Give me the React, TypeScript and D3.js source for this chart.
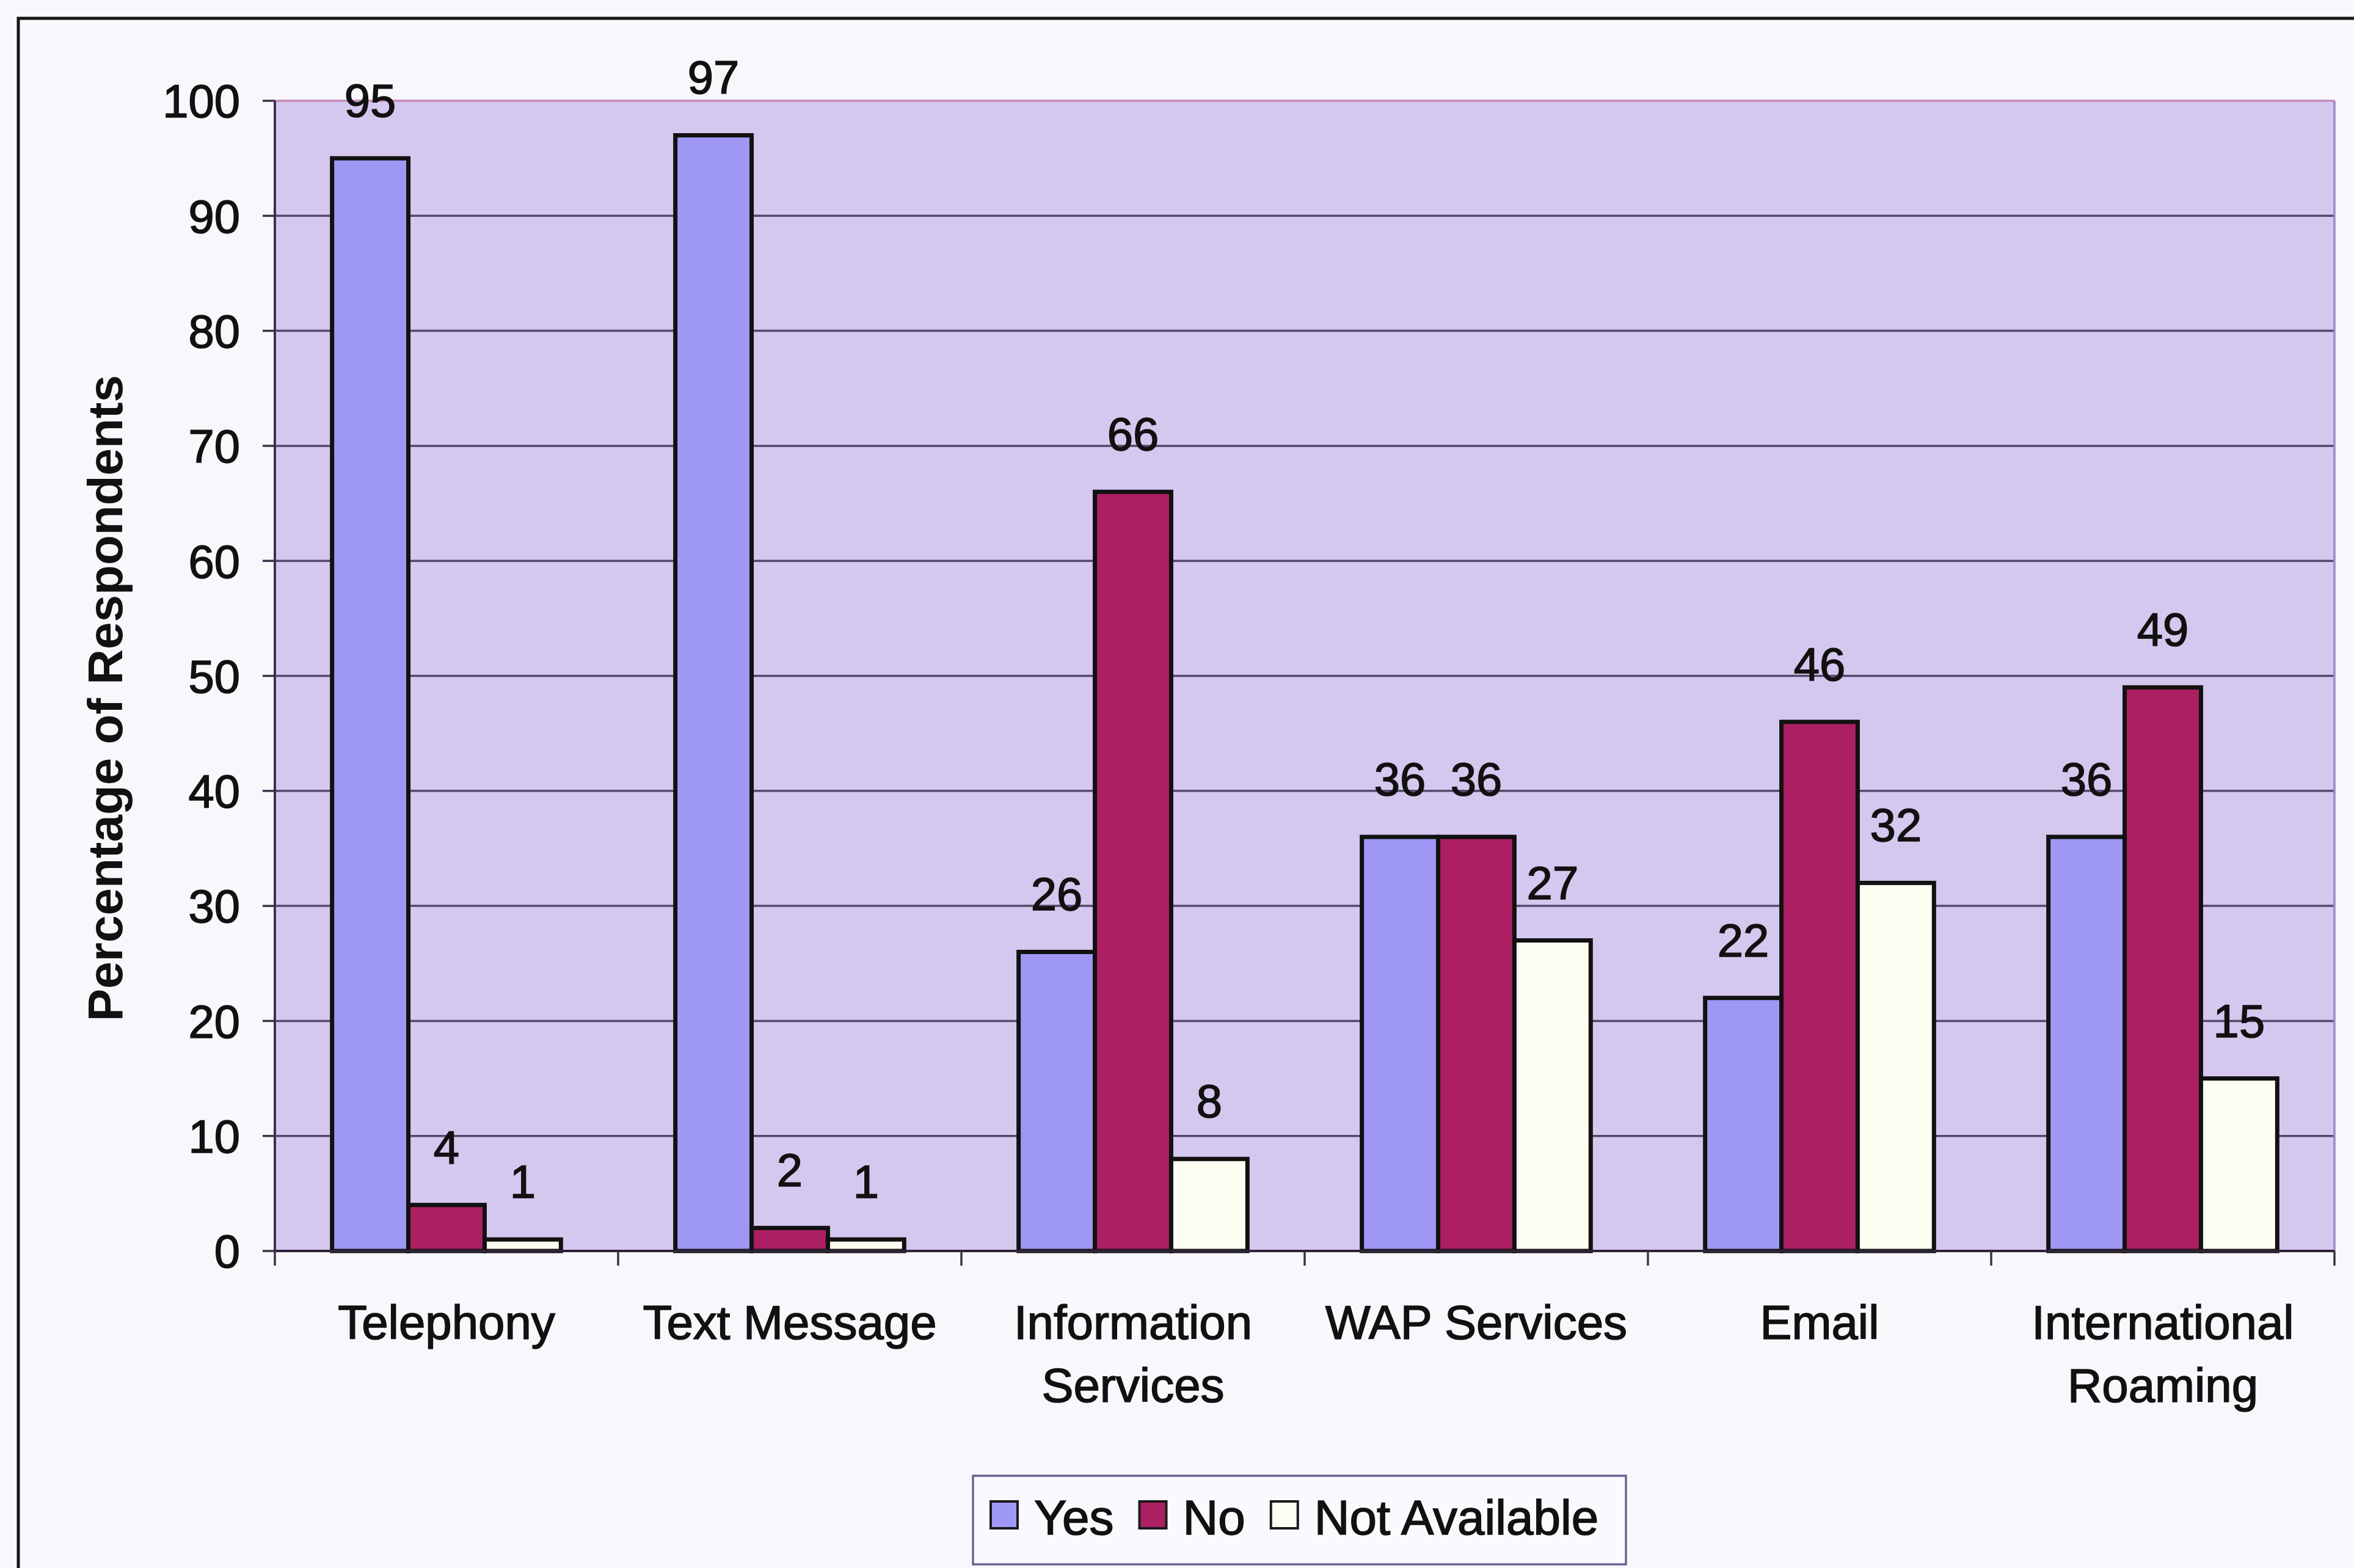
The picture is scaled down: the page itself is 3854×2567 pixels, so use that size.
import React, { useEffect, useRef } from 'react';
import * as d3 from 'd3';

const categories = ['Telephony', 'Text Message', 'Information Services', 'WAP Services', 'Email', 'International Roaming'];
const categoryLines = [['Telephony'], ['Text Message'], ['Information', 'Services'], ['WAP Services'], ['Email'], ['International', 'Roaming']];
const seriesNames = ['Yes', 'No', 'Not Available'];
const yesValues = [95, 97, 26, 36, 22, 36];
const noValues = [4, 2, 66, 36, 46, 49];
const naValues = [1, 1, 8, 27, 32, 15];
const yTicks = [0, 10, 20, 30, 40, 50, 60, 70, 80, 90, 100];
const yTitle = 'Percentage of Respondents';

const seriesColors = ['#9E98F4', '#AD1F63', '#FEFDF2'];

const W = 3854;
const H = 2567;
const FONT = '"Liberation Sans", Arial, sans-serif';
const INK = '#111';
const TXT_STROKE = 1.6;

export default function App() {
  const ref = useRef<SVGSVGElement | null>(null);

  useEffect(() => {
    document.body.style.margin = '0';
    const svg = d3.select(ref.current);
    svg.selectAll('*').remove();

    const seriesValues = [yesValues, noValues, naValues];

    svg.append('rect').attr('x', 0).attr('y', 0).attr('width', W).attr('height', H).attr('fill', '#F8F8FC');
    svg.append('rect').attr('x', 30).attr('y', 30).attr('width', W).attr('height', H)
      .attr('fill', 'none').attr('stroke', '#151515').attr('stroke-width', 5);

    const left = 450, right = 3822;
    const x0 = d3.scaleBand<string>().domain(categories).range([left, right]).paddingInner(0).paddingOuter(0);
    const x1 = d3.scaleBand<string>().domain(seriesNames).range([0, x0.bandwidth()]).paddingInner(0).paddingOuter(0.75);
    const y = d3.scaleLinear().domain([0, 100]).range([2048, 165]);

    // plot background
    svg.append('rect').attr('x', left).attr('y', y(100)).attr('width', right - left).attr('height', y(0) - y(100))
      .attr('fill', '#D5C8EF');

    // gridlines
    svg.append('g').selectAll('line').data(yTicks.filter(t => t > 0 && t < 100)).join('line')
      .attr('x1', left).attr('x2', right).attr('y1', d => y(d)).attr('y2', d => y(d))
      .attr('stroke', '#54486A').attr('stroke-width', 3.5);
    // top and right border
    svg.append('line').attr('x1', left).attr('x2', right).attr('y1', y(100)).attr('y2', y(100))
      .attr('stroke', '#C68AB8').attr('stroke-width', 3.5);
    svg.append('line').attr('x1', right).attr('x2', right).attr('y1', y(100)).attr('y2', y(0))
      .attr('stroke', '#9C86C8').attr('stroke-width', 3.5);

    // y axis
    const ya = svg.append('g');
    ya.append('line').attr('x1', left).attr('x2', left).attr('y1', y(0)).attr('y2', y(100))
      .attr('stroke', '#3A3248').attr('stroke-width', 4);
    ya.selectAll('line.tick').data(yTicks).join('line').attr('class', 'tick')
      .attr('x1', left - 20).attr('x2', left).attr('y1', d => y(d)).attr('y2', d => y(d))
      .attr('stroke', '#3A3248').attr('stroke-width', 3.5);
    ya.selectAll('text').data(yTicks).join('text')
      .attr('x', 393).attr('y', d => y(d)).attr('dy', '0.36em')
      .attr('text-anchor', 'end').attr('font-family', FONT).attr('font-size', 76).attr('fill', INK)
      .attr('stroke', INK).attr('stroke-width', TXT_STROKE)
      .text(d => String(d));

    // bars
    const groups = svg.append('g').selectAll('g').data(categories).join('g')
      .attr('transform', c => `translate(${x0(c)},0)`);
    groups.each(function (c, ci) {
      const g = d3.select(this);
      seriesNames.forEach((s, si) => {
        const v = seriesValues[si][ci];
        g.append('rect')
          .attr('x', x1(s)!).attr('y', y(v)).attr('width', x1.bandwidth()).attr('height', y(0) - y(v))
          .attr('fill', seriesColors[si]).attr('stroke', '#111').attr('stroke-width', 7);
      });
      seriesNames.forEach((s, si) => {
        const v = seriesValues[si][ci];
        g.append('text')
          .attr('x', x1(s)! + x1.bandwidth() / 2).attr('y', y(v) - 68)
          .attr('text-anchor', 'middle').attr('font-family', FONT).attr('font-size', 76).attr('fill', INK)
          .attr('stroke', INK).attr('stroke-width', TXT_STROKE)
          .text(String(v));
      });
    });

    // x axis
    svg.append('line').attr('x1', left).attr('x2', right).attr('y1', y(0)).attr('y2', y(0))
      .attr('stroke', '#2E2438').attr('stroke-width', 4);
    const bounds = [...categories.map(c => x0(c)!), right];
    svg.append('g').selectAll('line').data(bounds).join('line')
      .attr('x1', d => d).attr('x2', d => d).attr('y1', y(0)).attr('y2', y(0) + 24)
      .attr('stroke', '#3A3248').attr('stroke-width', 3.5);

    // category labels
    const cl = svg.append('g').selectAll('text').data(categories).join('text')
      .attr('text-anchor', 'middle').attr('font-family', FONT).attr('font-size', 78).attr('fill', INK)
      .attr('stroke', INK).attr('stroke-width', TXT_STROKE);
    cl.each(function (c, i) {
      const t = d3.select(this);
      categoryLines[i].forEach((line, li) => {
        t.append('tspan').attr('x', x0(c)! + x0.bandwidth() / 2).attr('y', 2192 + li * 103).text(line);
      });
    });

    // y title
    svg.append('text').attr('transform', 'translate(172,1143) rotate(-90)')
      .attr('text-anchor', 'middle').attr('dy', '0.35em')
      .attr('font-family', FONT).attr('font-size', 80).attr('font-weight', 'bold').attr('fill', INK)
      .text(yTitle);

    // legend
    const lg = svg.append('g');
    lg.append('rect').attr('x', 1593).attr('y', 2416).attr('width', 1069).attr('height', 145)
      .attr('fill', '#FAFAFE').attr('stroke', '#6E6290').attr('stroke-width', 3.5);
    let cx = 1622;
    seriesNames.forEach((s, si) => {
      lg.append('rect').attr('x', cx).attr('y', 2458).attr('width', 44).attr('height', 44)
        .attr('fill', seriesColors[si]).attr('stroke', '#1a1a1a').attr('stroke-width', 4);
      cx += 44 + 27;
      const t = lg.append('text').attr('x', cx).attr('y', 2512)
        .attr('font-family', FONT).attr('font-size', 80).attr('fill', INK)
        .attr('stroke', INK).attr('stroke-width', TXT_STROKE).text(s);
      const w = (t.node() as SVGTextElement).getComputedTextLength();
      cx += w + 42;
    });
  }, []);

  return (
    <svg ref={ref} width={W} height={H} style={{ position: 'absolute', left: 0, top: 0, display: 'block' }} />
  );
}
